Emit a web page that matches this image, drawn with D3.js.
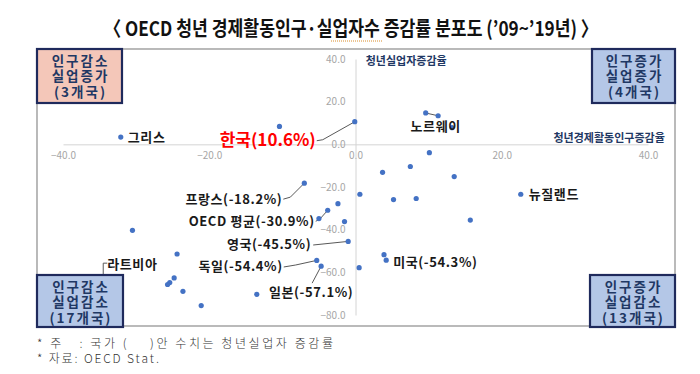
<!DOCTYPE html>
<html>
<head>
<meta charset="utf-8">
<script src="https://cdn.jsdelivr.net/npm/d3@7"></script>
<style>
    body { margin: 0; background: #fff; }
    svg { display: block; }
    text { font-family: "Noto Sans CJK KR", "Noto Sans", sans-serif; }
</style>
</head>
<body>
<svg id="canvas" width="700" height="374"></svg>
<script>
"use strict";

// 청년 경제활동인구 증감율 (x), 청년실업자 증감율 (y), '09~'19
var countryNames = ['그리스', '', '한국', '노르웨이', '', '',
    '', '', '', '', '뉴질랜드', '', '', '', '',
    '프랑스', '', 'OECD 평균', '', '', '영국', '', '미국', '독일', '일본', '',
    '', '', '', '', '', '', '', '', '라트비아'];
var laborChange = [-32.1, -10.4, -0.1, 9.6, 11.3, 13.2,
    10.1, 3.7, 7.5, 13.5, 22.6, 0.6, 5.2, 8.3, 15.7,
    -7.0, -2.4, -3.8, -5.0, -1.5, -1.0, 3.9, 4.2, -5.3, -4.7, 0.5,
    -30.5, -24.4, -24.8, -25.4, -25.7, -23.6, -21.1, -13.5, -34.5];
var unempChange = [3.4, 8.4, 10.6, 14.7, 13.4, 7.8,
    -3.9, -13.1, -10.4, -15.1, -23.4, -23.4, -25.9, -25.4, -35.5,
    -18.2, -27.8, -30.9, -34.8, -36.2, -45.5, -51.7, -54.3, -54.4, -57.1, -57.8,
    -40.3, -51.4, -62.6, -64.8, -65.7, -68.9, -75.6, -70.3, -62.5];
var labelValues = {'한국': '(10.6%)', '프랑스': '(-18.2%)', 'OECD 평균': '(-30.9%)',
    '영국': '(-45.5%)', '독일': '(-54.4%)', '일본': '(-57.1%)', '미국': '(-54.3%)'};

var xTicks = [-40, -20, 0, 20, 40];
var yTicks = [40, 20, 0, -20, -40, -60, -80];

var quadrantNames = [
    ['인구감소', '실업증가', '(3개국)'],
    ['인구증가', '실업증가', '(4개국)'],
    ['인구감소', '실업감소', '(17개국)'],
    ['인구증가', '실업감소', '(13개국)']
];

var TITLE = '\u3008 OECD 청년 경제활동인구·실업자수 증감률 분포도 (\u201909~\u201919년) \u3009';
var NOTES = ['* 주   : 국가 (    )안 수치는 청년실업자 증감률', '* 자료: OECD Stat.'];

var NAVY = '#1f3864';
var DOT = '#4472c4';

var svg = d3.select(document.getElementById('canvas'));

var x = d3.scaleLinear().domain([-40, 40]).range([63, 648]);
var y = d3.scaleLinear().domain([-80, 40]).range([315, 59]);

// title
svg.append('text')
    .attr('x', 351).attr('y', 36)
    .attr('text-anchor', 'middle')
    .attr('font-size', '20px')
    .attr('font-weight', 700)
    .attr('textLength', 494)
    .attr('lengthAdjust', 'spacingAndGlyphs')
    .attr('fill', '#111')
    .text(TITLE);
// spell-check squiggle under 실업자수
svg.append('line')
    .attr('x1', 331).attr('x2', 383).attr('y1', 41).attr('y2', 41)
    .attr('stroke', '#d98c2b').attr('stroke-width', 1)
    .attr('stroke-dasharray', '1,1');

// frame
svg.append('rect')
    .attr('x', 37).attr('y', 49)
    .attr('width', 638).attr('height', 277)
    .attr('fill', 'none')
    .attr('stroke', '#8c8c8c')
    .attr('stroke-width', 1.2);

// axes through origin
var xAxis = d3.axisBottom(x).tickValues(xTicks).tickSize(0).tickPadding(8)
    .tickFormat(d3.format('.1f'));
var yAxis = d3.axisLeft(y).tickValues(yTicks).tickSize(0).tickPadding(10)
    .tickFormat(d3.format('.1f'));

var gx = svg.append('g').attr('transform', 'translate(0,' + y(0) + ')').call(xAxis);
var gy = svg.append('g').attr('transform', 'translate(' + x(0) + ',0)').call(yAxis);
[gx, gy].forEach(function(g) {
    g.select('.domain').attr('stroke', '#d4d4d4').attr('stroke-width', 1);
    g.selectAll('text')
        .attr('fill', '#a6a6a6')
        .attr('font-size', '10px')
        .attr('font-family', 'Liberation Sans, Arial, sans-serif');
});

// axis titles
svg.append('text')
    .attr('x', x(1.4)).attr('y', y(37.3))
    .attr('font-size', '11px').attr('font-weight', 700)
    .attr('fill', NAVY)
    .text('청년실업자증감율');
svg.append('text')
    .attr('x', x(42.3)).attr('y', y(1.3))
    .attr('text-anchor', 'end')
    .attr('font-size', '11px').attr('font-weight', 700)
    .attr('fill', NAVY)
    .text('청년경제활동인구증감율');

var points = laborChange.map(function(v, i) {
    return {name: countryNames[i], lx: v, ly: unempChange[i]};
});

// label layout: offsets in px from the point, leader polylines
var labelLayout = {
    '그리스': {dx: 7, dy: 5, anchor: 'start'},
    '한국': {dx: -39, dy: 24, anchor: 'end', size: 17, color: '#ff0000', leader: [[-38, 19], [-32, 18], [0, 0]]},
    '프랑스': {dx: -22, dy: 21, anchor: 'end', leader: [[-21, 16], [-14, 14], [0, 0]]},
    'OECD 평균': {dx: -13, dy: 16, anchor: 'end', leader: [[-12, 11], [-8, 9], [0, 0]]},
    '영국': {dx: -37, dy: 8, anchor: 'end', leader: [[-35, 3.6], [0, 0]]},
    '독일': {dx: -34, dy: 11, anchor: 'end', leader: [[-33, 6.6], [-21, 4.6], [0, 0]]},
    '일본': {dx: -10, dy: 30.5, anchor: 'middle', leader: [[0, 0], [-9, 17]]},
    '미국': {dx: 7, dy: 6.5, anchor: 'start'},
    '뉴질랜드': {dx: 8, dy: 4.5, anchor: 'start'},
    '노르웨이': {dx: 10, dy: 18.5, anchor: 'middle', leader: [[0, 0], [12, 2.7]]},
    '라트비아': {dx: 4, dy: -8.5, anchor: 'start', leader: [[4, -14.5], [0, -14.5], [0, 0]]}
};

var labeled = points.filter(function(p) { return p.name !== ''; });

svg.selectAll('path.leader')
    .data(labeled.filter(function(p) { return labelLayout[p.name].leader; }))
    .enter().append('path')
    .attr('class', 'leader')
    .attr('fill', 'none')
    .attr('stroke', '#595959')
    .attr('stroke-width', 1)
    .attr('d', function(p) {
        var px = x(p.lx), py = y(p.ly);
        return d3.line()(labelLayout[p.name].leader.map(function(o) {
            return [px + o[0], py + o[1]];
        }));
    });

svg.selectAll('circle')
    .data(points)
    .enter().append('circle')
    .attr('cx', function(p) { return x(p.lx); })
    .attr('cy', function(p) { return y(p.ly); })
    .attr('r', 2.6)
    .attr('fill', DOT);

svg.selectAll('text.label')
    .data(labeled)
    .enter().append('text')
    .attr('class', 'label')
    .attr('x', function(p) { return x(p.lx) + labelLayout[p.name].dx; })
    .attr('y', function(p) { return y(p.ly) + labelLayout[p.name].dy; })
    .attr('text-anchor', function(p) { return labelLayout[p.name].anchor; })
    .attr('font-size', function(p) { return (labelLayout[p.name].size || 13) + 'px'; })
    .attr('letter-spacing', function(p) { return labelLayout[p.name].size ? '0px' : '0.6px'; })
    .attr('font-weight', 700)
    .attr('fill', function(p) { return labelLayout[p.name].color || '#1a1a1a'; })
    .text(function(p) { return p.name + (labelValues[p.name] || ''); });

// quadrant boxes
var boxes = [
    {x: 37, y: 49, w: 85, h: 54, fill: '#f4c7b9'},
    {x: 592, y: 49, w: 83, h: 54, fill: '#b4c7e7'},
    {x: 37, y: 275, w: 86, h: 52, fill: '#b4c7e7'},
    {x: 590, y: 275, w: 85, h: 52, fill: '#b4c7e7'}
];
boxes.forEach(function(b, i) {
    svg.append('rect')
        .attr('x', b.x).attr('y', b.y)
        .attr('width', b.w).attr('height', b.h)
        .attr('fill', b.fill)
        .attr('stroke', '#1f2a5c')
        .attr('stroke-width', 2.2);
    var cx = b.x + b.w / 2 + 1;
    svg.append('text')
        .attr('x', cx)
        .attr('y', b.y + 16.5)
        .attr('text-anchor', 'middle')
        .attr('font-size', '13.5px')
        .attr('letter-spacing', '2px')
        .attr('font-weight', 700)
        .attr('fill', NAVY)
        .selectAll('tspan')
        .data(quadrantNames[i])
        .enter().append('tspan')
        .attr('x', cx)
        .attr('dy', function(d, j) { return j === 0 ? 0 : 15.5; })
        .text(function(d) { return d; });
});

// notes
var noteWidths = [296, 122];
svg.selectAll('text.note')
    .data(NOTES)
    .enter().append('text')
    .attr('class', 'note')
    .attr('x', 37)
    .attr('y', function(d, i) { return 348 + i * 14.5; })
    .attr('font-size', '12px')
    .attr('font-weight', 300)
    .attr('fill', '#333')
    .attr('textLength', function(d, i) { return noteWidths[i]; })
    .attr('lengthAdjust', 'spacing')
    .style('white-space', 'pre')
    .text(function(d) { return d; });
</script>
</body>
</html>
